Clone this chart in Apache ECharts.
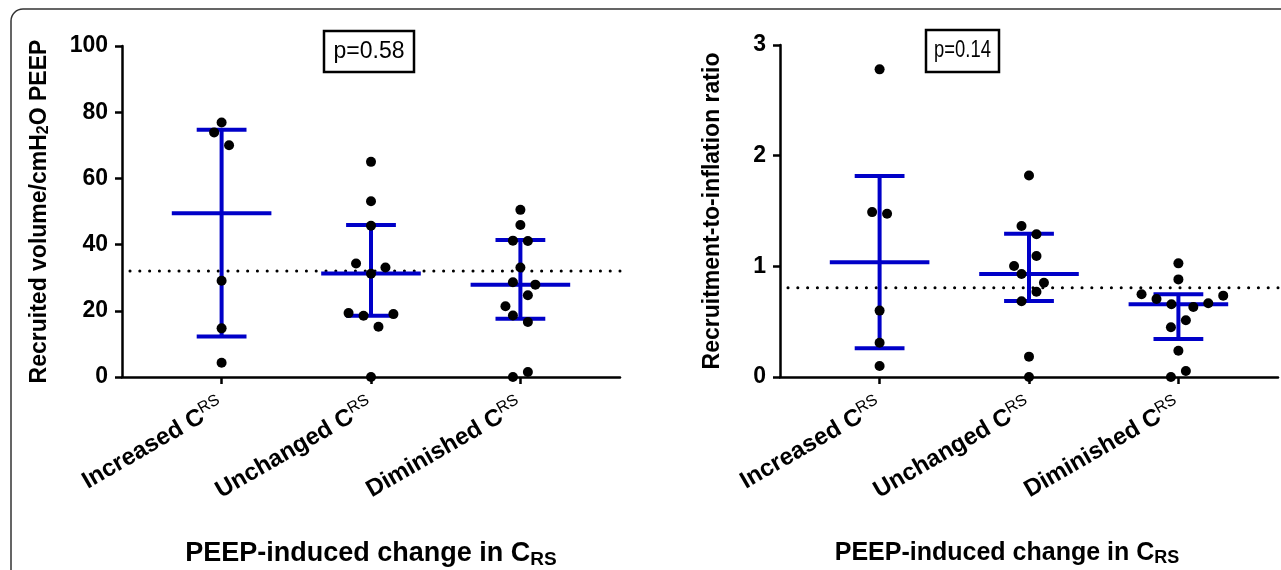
<!DOCTYPE html>
<html><head><meta charset="utf-8">
<script src="https://cdn.jsdelivr.net/npm/echarts@6/dist/echarts.min.js"></script>
<style>html,body{margin:0;padding:0;background:#fff}#c{width:1281px;height:570px}</style>
</head><body><div id="c"></div>
<script>
// ---- data ----
const categories = ['Increased', 'Unchanged', 'Diminished'];
const catX = [2, 5, 8];               // x positions of the three groups on the value axis
const xTicks = [2, 5, 8];
const yTicksLeft = [0, 20, 40, 60, 80, 100];
const yTicksRight = [0, 1, 2, 3];

// Left panel: recruited volume / cmH2O PEEP
const volIncreased = [76.9, 73.9, 70.0, 29.1, 14.7, 4.3];
const volIncreasedJit = [0, -0.15, 0.15, 0, 0, 0];
const volUnchanged = [65.0, 53.1, 45.7, 34.3, 33.1, 31.2, 19.3, 18.5, 19.0, 15.2, 0];
const volUnchangedJit = [0, 0, 0, -0.3, 0.29, 0, -0.45, -0.15, 0.45, 0.15, 0];
const volDiminished = [50.5, 45.9, 41.2, 41.1, 33.1, 28.6, 27.9, 24.7, 21.4, 18.6, 16.6, 0, 1.5];
const volDiminishedJit = [0, 0, -0.15, 0.15, 0, -0.15, 0.3, 0.15, -0.3, -0.15, 0.15, -0.15, 0.15];
const volMean = [49.5, 31.3, 27.9];
const volSdLow = [12.2, 18.5, 17.6];
const volSdHigh = [74.7, 45.9, 41.4];
const volRef = 32.0;
const volP = 'p=0.58';

// Right panel: recruitment-to-inflation ratio
const riIncreased = [2.78, 1.49, 1.475, 0.60, 0.31, 0.10];
const riIncreasedJit = [0, -0.15, 0.15, 0, 0, 0];
const riUnchanged = [1.82, 1.364, 1.29, 1.093, 1.003, 0.93, 0.852, 0.771, 0.684, 0.184, 0];
const riUnchangedJit = [0, -0.15, 0.15, 0.15, -0.3, -0.15, 0.3, 0.15, -0.15, 0, 0];
const riDiminished = [1.027, 0.882, 0.747, 0.705, 0.657, 0.632, 0.666, 0.735, 0.512, 0.449, 0.238, 0, 0.054];
const riDiminishedJit = [0, 0, -0.74, -0.44, -0.14, 0.3, 0.6, 0.9, 0.15, -0.15, 0, -0.15, 0.15];
const riMean = [1.036, 0.93, 0.657];
const riSdLow = [0.259, 0.687, 0.343];
const riSdHigh = [1.816, 1.295, 0.747];
const riRef = 0.807;
const riP = 'p=0.14';

// ---- styling ----
const FONT = '"Liberation Sans", Arial, Helvetica, sans-serif';
const BLUE = '#0000c8';
const MEAN_HALF = 1.0, CAP_HALF = 0.5;

function points(groups, jits) {
  const out = [];
  groups.forEach((vals, i) => vals.forEach((v, j) => out.push([catX[i] + jits[i][j], v])));
  return out;
}
function errData(mean, lo, hi) {
  return mean.map((m, i) => [catX[i], m, lo[i], hi[i]]);
}
function renderErr(params, api) {
  const x = api.value(0), m = api.value(1), lo = api.value(2), hi = api.value(3);
  const st = { stroke: BLUE, lineWidth: 4 };
  const a = api.coord([x, lo]), b = api.coord([x, hi]);
  const m1 = api.coord([x - MEAN_HALF, m]), m2 = api.coord([x + MEAN_HALF, m]);
  const c1 = api.coord([x - CAP_HALF, hi]), c2 = api.coord([x + CAP_HALF, hi]);
  const d1 = api.coord([x - CAP_HALF, lo]), d2 = api.coord([x + CAP_HALF, lo]);
  return { type: 'group', children: [
    { type: 'line', shape: { x1: a[0], y1: a[1], x2: b[0], y2: b[1] }, style: st },
    { type: 'line', shape: { x1: m1[0], y1: m1[1], x2: m2[0], y2: m2[1] }, style: st },
    { type: 'line', shape: { x1: c1[0], y1: c1[1], x2: c2[0], y2: c2[1] }, style: st },
    { type: 'line', shape: { x1: d1[0], y1: d1[1], x2: d2[0], y2: d2[1] }, style: st }
  ]};
}

const catRich = {
  b: { fontFamily: FONT, fontSize: 24, fontWeight: 'bold', color: '#000' },
  s: { fontFamily: FONT, fontSize: 16, fontWeight: 'normal', color: '#000', padding: [0, 0, 12, 0] }
};
function nameRich(size) {
  return {
    b: { fontFamily: FONT, fontSize: size, fontWeight: 'bold', color: '#000' },
    sub: { fontFamily: FONT, fontSize: Math.round(size * 0.7), fontWeight: 'bold', color: '#000', padding: [Math.round(size * 0.4), 0, 0, 0] }
  };
}
const yNameRich = {
  b: { fontFamily: FONT, fontSize: 23, fontWeight: 'bold', color: '#000' },
  sub: { fontFamily: FONT, fontSize: 16, fontWeight: 'bold', color: '#000', padding: [9, 0, 0, 0] }
};
const yNameRich2 = {
  b: { fontFamily: FONT, fontSize: 23, fontWeight: 'bold', color: '#000' }
};

function xAxis(gi, namePad, nameSize) {
  return {
    gridIndex: gi, type: 'value', min: 0, max: 10, interval: 1,
    axisLine: { lineStyle: { color: '#000', width: 2.5 } },
    axisTick: { show: true, length: 7, lineStyle: { color: '#000', width: 2.5 }, customValues: xTicks },
    axisLabel: {
      customValues: xTicks, rotate: 30, margin: 27,
      formatter: v => { const i = catX.indexOf(v); return i < 0 ? '' : '{b|' + categories[i] + ' C}{s|RS}'; },
      rich: catRich
    },
    splitLine: { show: false },
    name: '{b|PEEP-induced change in C}{sub|RS}', nameLocation: 'middle', nameGap: 162,
    nameTextStyle: { rich: nameRich(nameSize), padding: namePad }
  };
}
function yAxis(gi, max, interval, name, nameGap, rich) {
  return {
    gridIndex: gi, type: 'value', min: 0, max: max, interval: interval,
    axisLine: { show: true, lineStyle: { color: '#000', width: 2.5 } },
    axisTick: { show: true, length: 7, lineStyle: { color: '#000', width: 2.5 } },
    axisLabel: { color: '#000', fontFamily: FONT, fontSize: 23, fontWeight: 'bold', margin: 14 },
    splitLine: { show: false },
    name: name, nameLocation: 'middle', nameGap: nameGap, nameRotate: 90,
    nameTextStyle: { rich: rich }
  };
}

function panelSeries(idx, groups, jits, mean, lo, hi, ref) {
  return [
    { type: 'line', xAxisIndex: idx, yAxisIndex: idx, data: [[0.16, ref], [10, ref]], symbol: 'none',
      lineStyle: { color: '#000', width: 3, type: [0.1, 9.7], cap: 'round' }, z: 1, silent: true },
    { type: 'custom', xAxisIndex: idx, yAxisIndex: idx, data: errData(mean, lo, hi), renderItem: renderErr, z: 2, silent: true },
    { type: 'scatter', xAxisIndex: idx, yAxisIndex: idx, data: points(groups, jits), symbolSize: 10,
      itemStyle: { color: '#000', opacity: 1 }, z: 3, silent: true }
  ];
}

const chart = echarts.init(document.getElementById('c'), null, { renderer: 'canvas' });
chart.setOption({
  animation: false,
  backgroundColor: '#fff',
  grid: [
    { left: 122, top: 46, width: 498, height: 331, containLabel: false, outerBoundsMode: 'none' },
    { left: 780, top: 45, width: 498, height: 332, containLabel: false, outerBoundsMode: 'none' }
  ],
  xAxis: [xAxis(0, [0, 0, 0, 0], 27), xAxis(1, [0, 44, 0, 0], 25)],
  yAxis: [
    yAxis(0, 100, 20, '{b|Recruited volume/cmH}{sub|2}{b|O PEEP}', 70, yNameRich),
    yAxis(1, 3, 1, '{b|Recruitment-to-inflation ratio}', 56, yNameRich2)
  ],
  series: [
    ...panelSeries(0, [volIncreased, volUnchanged, volDiminished], [volIncreasedJit, volUnchangedJit, volDiminishedJit], volMean, volSdLow, volSdHigh, volRef),
    ...panelSeries(1, [riIncreased, riUnchanged, riDiminished], [riIncreasedJit, riUnchangedJit, riDiminishedJit], riMean, riSdLow, riSdHigh, riRef)
  ],
  graphic: [
    { type: 'rect', shape: { x: 11, y: 9, width: 1320, height: 620, r: 12 }, style: { fill: 'none', stroke: '#333', lineWidth: 1.5 }, silent: true },
    { type: 'rect', shape: { x: 324, y: 31, width: 90, height: 41 }, style: { fill: '#fff', stroke: '#000', lineWidth: 2.5 } },
    { type: 'text', x: 369, y: 52, style: { text: volP, font: '23px ' + FONT, fill: '#000', align: 'center', verticalAlign: 'middle' } },
    { type: 'rect', shape: { x: 926, y: 30, width: 73, height: 42 }, style: { fill: '#fff', stroke: '#000', lineWidth: 2.5 } },
    { type: 'text', x: 962.5, y: 51, scaleX: 0.8, style: { text: riP, font: '23px ' + FONT, fill: '#000', align: 'center', verticalAlign: 'middle' } }
  ]
});
</script></body></html>
